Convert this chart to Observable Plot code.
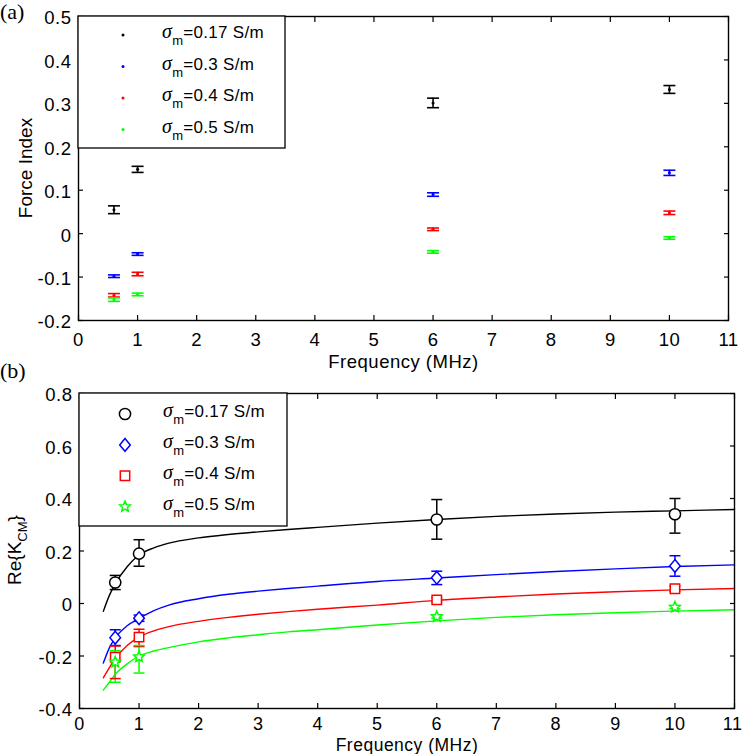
<!DOCTYPE html>
<html><head><meta charset="utf-8">
<script src="https://cdn.jsdelivr.net/npm/d3@7"></script>
<script src="https://cdn.jsdelivr.net/npm/@observablehq/plot@0.6"></script>
<style>
body{margin:0;background:#fff;}
#wrap{position:relative;width:742px;height:754px;overflow:hidden;background:#fff;}
#wrap svg{position:absolute;left:0;}
</style></head>
<body><div id="wrap"></div>
<script>
// ---------------- data ----------------
const xTicks = [0,1,2,3,4,5,6,7,8,9,10,11];
const yTicksA = [-0.2,-0.1,0,0.1,0.2,0.3,0.4,0.5];
const yTicksB = [-0.4,-0.2,0,0.2,0.4,0.6,0.8];
const sigmaLabels = ["0.17","0.3","0.4","0.5"];
const seriesColors = ["#000000","#0000ff","#ff0000","#00ff00"];
const freq = [0.6, 1, 6, 10];

// panel (a): force index, value and half error bar
const force017 = [0.055, 0.148, 0.301, 0.332];
const forceErr017 = [0.009, 0.007, 0.011, 0.009];
const force03 = [-0.098, -0.047, 0.090, 0.140];
const forceErr03 = [0.003, 0.003, 0.004, 0.006];
const force04 = [-0.142, -0.093, 0.010, 0.048];
const forceErr04 = [0.004, 0.004, 0.003, 0.004];
const force05 = [-0.152, -0.140, -0.042, -0.010];
const forceErr05 = [0.004, 0.003, 0.003, 0.003];

// panel (b): Re{K_CM} measured, lower and upper error bar ends
const kcm017 = [0.08, 0.19, 0.32, 0.34];
const kcmLo017 = [0.053, 0.142, 0.245, 0.268];
const kcmHi017 = [0.107, 0.243, 0.396, 0.400];
const kcm03 = [-0.13, -0.056, 0.098, 0.143];
const kcmLo03 = [-0.16, -0.068, 0.072, 0.104];
const kcmHi03 = [-0.10, -0.044, 0.123, 0.182];
const kcm04 = [-0.205, -0.128, 0.014, 0.056];
const kcmLo04 = [-0.286, -0.164, 0.006, 0.046];
const kcmHi04 = [-0.162, -0.098, 0.022, 0.066];
const kcm05 = [-0.223, -0.203, -0.050, -0.014];
const kcmLo05 = [-0.300, -0.265, -0.056, -0.020];
const kcmHi05 = [-0.180, -0.160, -0.044, -0.008];

// panel (b): model curves
const fitFreq = [0.4,0.5,0.6,0.8,1,1.25,1.5,2,2.5,3,3.5,4,5,6,7,8,9,10,11];
const fit017 = [-0.03,0.03,0.075,0.14,0.185,0.212,0.23,0.25,0.263,0.273,0.282,0.29,0.306,0.32,0.332,0.341,0.348,0.353,0.358];
const fit03 = [-0.227,-0.17,-0.131,-0.085,-0.057,-0.027,-0.006,0.018,0.035,0.047,0.057,0.066,0.084,0.097,0.11,0.122,0.132,0.141,0.147];
const fit04 = [-0.283,-0.245,-0.21,-0.16,-0.128,-0.104,-0.088,-0.068,-0.053,-0.041,-0.031,-0.022,-0.006,0.012,0.025,0.036,0.045,0.052,0.057];
const fit05 = [-0.33,-0.3,-0.27,-0.23,-0.2,-0.181,-0.168,-0.146,-0.131,-0.119,-0.108,-0.1,-0.082,-0.066,-0.053,-0.043,-0.035,-0.029,-0.024];

// ---------------- tables ----------------
const forceVals = [force017, force03, force04, force05];
const forceErrs = [forceErr017, forceErr03, forceErr04, forceErr05];
const tableA = sigmaLabels.flatMap((s, k) => freq.map((f, i) => ({
  series: s, f, v: forceVals[k][i], lo: forceVals[k][i] - forceErrs[k][i], hi: forceVals[k][i] + forceErrs[k][i]
})));
const kVals = [kcm017, kcm03, kcm04, kcm05];
const kLos = [kcmLo017, kcmLo03, kcmLo04, kcmLo05];
const kHis = [kcmHi017, kcmHi03, kcmHi04, kcmHi05];
const tableB = sigmaLabels.flatMap((s, k) => freq.map((f, i) => ({
  series: s, f, v: kVals[k][i], lo: kLos[k][i], hi: kHis[k][i]
})));
const fits = [fit017, fit03, fit04, fit05];
const fitTable = sigmaLabels.flatMap((s, k) => fitFreq.map((f, i) => ({series: s, f, v: fits[k][i]})));

// ---------------- symbols ----------------
const rad = size => Math.sqrt(size / Math.PI);
const hline = {draw(c, size){ const r = rad(size); c.moveTo(-r, 0); c.lineTo(r, 0); }};
const diamondM = {draw(c, size){ const r = rad(size); c.moveTo(0, -r*1.2); c.lineTo(r, 0); c.lineTo(0, r*1.2); c.lineTo(-r, 0); c.closePath(); }};
const squareM = {draw(c, size){ const r = rad(size); c.rect(-r, -r, 2*r, 2*r); }};
const starM = {draw(c, size){ const R = rad(size), ri = R*0.45;
  for (let i = 0; i < 10; i++) { const a = -Math.PI/2 + i*Math.PI/5, rr = i % 2 ? ri : R;
    const px = rr*Math.cos(a), py = rr*Math.sin(a); i ? c.lineTo(px, py) : c.moveTo(px, py); }
  c.closePath(); }};
const circleM = {draw(c, size){ const r = rad(size); c.moveTo(r, 0); c.arc(0, 0, r, 0, 2*Math.PI); }};
const markerB = [ {sym: circleM, r: 5.6}, {sym: diamondM, r: 5.3}, {sym: squareM, r: 4.7}, {sym: starM, r: 5.6} ];

const fmt = d => String(Math.round(d*10)/10);

const baseStyle = {fontFamily:"'Liberation Sans', Arial, sans-serif", fontSize:"18.5px", color:"#000",
  background:"transparent", overflow:"visible", letterSpacing:"0.5px"};

function axesMarks(yTicks, xPad, yPad, lastAtEdge, xFont) {
  const xLab = lastAtEdge ? xTicks.slice(0, -1) : xTicks;
  const marks = [
    Plot.axisX(xTicks, {anchor:"bottom", tickSize:-5, tickFormat:()=>"", label:null, strokeWidth:1.2}),
    Plot.axisX(xTicks, {anchor:"top", tickSize:-5, tickFormat:()=>"", label:null, strokeWidth:1.2}),
    Plot.axisY(yTicks, {anchor:"left", tickSize:-5, tickFormat:()=>"", label:null, strokeWidth:1.2}),
    Plot.axisY(yTicks, {anchor:"right", tickSize:-5, tickFormat:()=>"", label:null, strokeWidth:1.2}),
    Plot.axisX(xLab, {anchor:"bottom", tickSize:0, tickPadding:xPad, tickFormat:d=>String(d), label:null, fontSize:xFont}),
    Plot.axisY(yTicks, {anchor:"left", tickSize:0, tickPadding:yPad, tickFormat:fmt, label:null, dy:2}),
    Plot.frame({stroke:"#000", strokeWidth:1.4})
  ];
  if (lastAtEdge) marks.push(Plot.axisX(xTicks.slice(-1), {anchor:"bottom", tickSize:0, tickPadding:xPad,
    tickFormat:d=>String(d), label:null, textAnchor:"end", dx:8, fontSize:xFont}));
  return marks;
}

const colorScale = {domain: sigmaLabels, range: seriesColors};

// ---------------- panel (a) ----------------
const plotA = Plot.plot({
  width: 742, height: 380,
  marginTop: 16, marginBottom: 60, marginLeft: 78, marginRight: 14,
  x: {domain: [0, 11]}, y: {domain: [-0.2, 0.5]},
  color: colorScale,
  style: baseStyle,
  marks: [
    Plot.ruleX(tableA, {x:"f", y1:"lo", y2:"hi", stroke:"series", strokeWidth:1.6}),
    Plot.dot(tableA, {x:"f", y:"lo", symbol:hline, r:6, stroke:"series", strokeWidth:1.6}),
    Plot.dot(tableA, {x:"f", y:"hi", symbol:hline, r:6, stroke:"series", strokeWidth:1.6}),
    Plot.dot(tableA, {x:"f", y:"v", r:1.5, fill:"series"}),
    ...axesMarks(yTicksA, 12, 7, false, 18.5),
    Plot.text(["Frequency (MHz)"], {frameAnchor:"bottom", dy:42, lineAnchor:"middle", text:d=>d, fontSize:18.5, letterSpacing:"0.7px"})
  ]
});
plotA.style.top = "0px";

// ---------------- panel (b) ----------------
const plotB = Plot.plot({
  width: 742, height: 394,
  marginTop: 33, marginBottom: 46, marginLeft: 79, marginRight: 8,
  x: {domain: [0, 11]}, y: {domain: [-0.4, 0.8]},
  color: colorScale,
  style: baseStyle,
  marks: [
    Plot.line(fitTable, {x:"f", y:"v", z:"series", stroke:"series", curve:"monotone-x", strokeWidth:1.4}),
    Plot.ruleX(tableB, {x:"f", y1:"lo", y2:"hi", stroke:"series", strokeWidth:1.5}),
    Plot.dot(tableB, {x:"f", y:"lo", symbol:hline, r:5.5, stroke:"series", strokeWidth:1.5}),
    Plot.dot(tableB, {x:"f", y:"hi", symbol:hline, r:5.5, stroke:"series", strokeWidth:1.5}),
    ...sigmaLabels.map((s, k) => Plot.dot(tableB.filter(d => d.series === s),
      {x:"f", y:"v", symbol: markerB[k].sym, r: markerB[k].r, stroke:"series", fill:"white", strokeWidth:1.5})),
    ...axesMarks(yTicksB, 9, 7, true, 18),
    Plot.text(["Frequency (MHz)"], {frameAnchor:"bottom", dy:36.4, lineAnchor:"middle", text:d=>d, fontSize:17.5, letterSpacing:"0.9px"})
  ]
});
plotB.style.top = "360px";

const wrap = document.getElementById("wrap");
wrap.appendChild(plotA);
wrap.appendChild(plotB);

// ---------------- overlay: legends, panel tags, y labels ----------------
const ov = d3.select(wrap).append("svg")
  .attr("width", 742).attr("height", 754)
  .style("top", "0px").style("pointer-events", "none")
  .attr("font-family", "'Liberation Sans', Arial, sans-serif");

function symPath(sym, r) { const p = d3.path(); sym.draw(p, Math.PI*r*r); return p.toString(); }

function legend(box, markerX, markerY0, textX, baseY0, step, drawMarker) {
  ov.append("rect").attr("x", box.x).attr("y", box.y).attr("width", box.w).attr("height", box.h)
    .attr("fill", "#fff").attr("stroke", "#000").attr("stroke-width", 1.3);
  sigmaLabels.forEach((s, k) => {
    drawMarker(k, markerX, markerY0 + step*k);
    const t = ov.append("text").attr("x", textX).attr("y", baseY0 + step*k).attr("font-size", 17).attr("letter-spacing", "0.3px");
    t.append("tspan").attr("font-family", "'Liberation Serif', serif").attr("font-style", "italic").attr("font-size", 20).text("σ");
    t.append("tspan").attr("font-size", 13).attr("dy", 7).text("m");
    t.append("tspan").attr("dy", -7).text("=" + s + " S/m");
  });
}

legend({x:78, y:16, w:207, h:132}, 123, 35, 162, 38, 31.5, (k, x, y) => {
  ov.append("circle").attr("cx", x).attr("cy", y).attr("r", 1.5).attr("fill", seriesColors[k]);
});
legend({x:79, y:393, w:208, h:133}, 125, 414, 163, 417, 30.9, (k, x, y) => {
  ov.append("path").attr("d", symPath(markerB[k].sym, markerB[k].r))
    .attr("transform", `translate(${x},${y})`).attr("fill", "#fff")
    .attr("stroke", seriesColors[k]).attr("stroke-width", 1.5);
});

// panel tags
ov.append("text").attr("x", 0).attr("y", 19).attr("font-family", "'Liberation Serif', serif").attr("font-size", 22).text("(a)");
ov.append("text").attr("x", 0).attr("y", 378).attr("font-family", "'Liberation Serif', serif").attr("font-size", 22).text("(b)");

// y-axis titles
ov.append("text").attr("transform", "translate(32,168) rotate(-90)").attr("text-anchor", "middle")
  .attr("font-size", 19).text("Force Index");
const yl = ov.append("text").attr("transform", "translate(21,550) rotate(-90)").attr("text-anchor", "middle").attr("font-size", 19);
yl.append("tspan").text("Re{K");
yl.append("tspan").attr("font-size", 13).attr("dy", 6).text("CM");
yl.append("tspan").attr("dy", -6).text("}");
</script>
</body></html>
